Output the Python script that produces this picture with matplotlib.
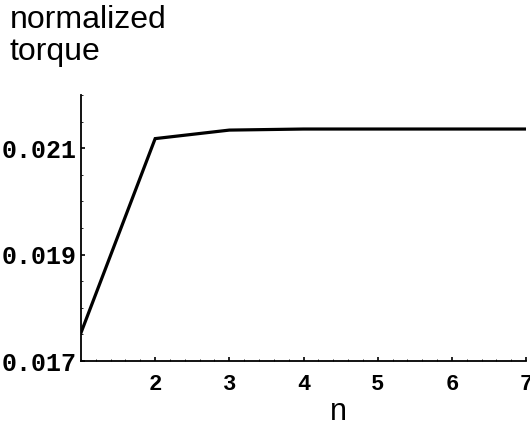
import numpy as np
import matplotlib
matplotlib.use("Agg")
import matplotlib.pyplot as plt
from matplotlib.ticker import MultipleLocator

# values
n_values = [1, 2, 3, 4, 5, 6, 7]
torque = [0.01753, 0.02118, 0.02134, 0.02136, 0.02136, 0.02136, 0.02136]

x_ticks = [2, 3, 4, 5, 6, 7]
y_ticks = [0.017, 0.019, 0.021]
y_tick_labels = ["0.017", "0.019", "0.021"]

fig = plt.figure(figsize=(5.30, 4.29), dpi=100)
ax = fig.add_axes([0.1528, 0.1585, 0.8397, 0.6201])

ax.plot(n_values, torque, color="black", lw=2.3, solid_joinstyle="miter")

ax.set_xlim(1, 7)
ax.set_ylim(0.017, 0.022)

for side in ("top", "right"):
    ax.spines[side].set_visible(False)
for side in ("left", "bottom"):
    ax.spines[side].set_linewidth(1.3)

ax.set_xticks(x_ticks)
ax.set_yticks(y_ticks)
ax.set_yticklabels(y_tick_labels)
ax.xaxis.set_minor_locator(MultipleLocator(0.2))
ax.yaxis.set_minor_locator(MultipleLocator(0.0005))

ax.tick_params(which="major", direction="in", length=3, width=1.2)
ax.tick_params(which="minor", direction="in", length=1.5, width=0.6)
ax.tick_params(axis="y", which="major", pad=3)
ax.tick_params(axis="x", which="major", pad=9)

for lab in ax.get_yticklabels():
    lab.set_fontfamily("Liberation Mono")
    lab.set_fontweight("bold")
    lab.set_fontsize(18)
for lab in ax.get_xticklabels():
    lab.set_fontfamily("Liberation Mono")
    lab.set_fontweight("bold")
    lab.set_fontsize(16)

fig.text(338 / 530, 1 - 412 / 429, "n",
         fontfamily="Liberation Sans", fontsize=22, ha="center", va="center")
fig.text(10 / 530, 1 - 36 / 429, "normalized\ntorque",
         fontfamily="Liberation Sans", fontsize=23, ha="left", va="center",
         linespacing=1.1)

fig.savefig("out.png", dpi=100)
